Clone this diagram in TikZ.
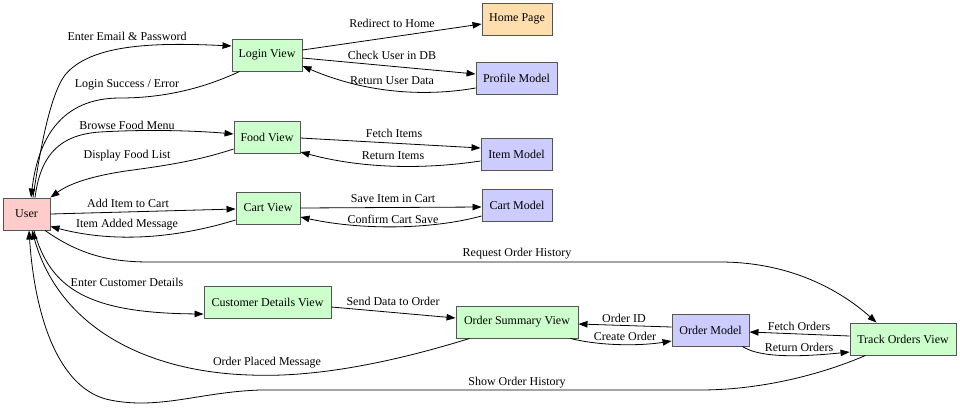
\documentclass[tikz,border=0pt]{standalone}
\usepackage{fontspec}
\setmainfont{Liberation Serif}
\usetikzlibrary{arrows.meta,calc}
\definecolor{userc}{HTML}{FFCCCC}
\definecolor{viewc}{HTML}{CCFFCC}
\definecolor{modelc}{HTML}{CCCCFF}
\definecolor{homec}{HTML}{FFDEAD}
\definecolor{bordc}{HTML}{555555}
\tikzset{
  box/.style={draw=bordc,line width=0.9pt,rectangle,minimum height=32pt,inner sep=0pt,font=\fontsize{12}{14}\selectfont},
  userbox/.style={box,fill=userc},
  viewbox/.style={box,fill=viewc},
  modelbox/.style={box,fill=modelc},
  homebox/.style={box,fill=homec},
  edge/.style={draw=black,line width=0.8pt,-{Triangle[length=9pt,width=6.5pt]}},
  lbl/.style={font=\fontsize{12}{14}\selectfont,inner sep=0pt,fill=none}
}
\begin{document}
\begin{tikzpicture}[x=1pt,y=-1pt]
\useasboundingbox (0,0) rectangle (960,408);
\fill[white] (0,0) rectangle (960,408);
% nodes
\node[userbox,minimum width=47pt] (user) at (26.5,214) {User};
\node[viewbox,minimum width=70pt] (login) at (267,55) {Login View};
\node[homebox,minimum width=70pt] (home) at (517,19) {Home Page};
\node[modelbox,minimum width=81pt] (profile) at (516.5,78.5) {Profile Model};
\node[viewbox,minimum width=66pt] (food) at (267,137) {Food View};
\node[modelbox,minimum width=71pt] (item) at (516.5,154) {Item Model};
\node[viewbox,minimum width=64pt] (cart) at (268,208) {Cart View};
\node[modelbox,minimum width=70pt] (cartm) at (517,205) {Cart Model};
\node[viewbox,minimum width=127pt] (cust) at (267.5,302) {Customer Details View};
\node[viewbox,minimum width=122pt] (summ) at (517,322) {Order Summary View};
\node[modelbox,minimum width=77pt] (om) at (710.5,330) {Order Model};
\node[viewbox,minimum width=106pt] (track) at (903,339) {Track Orders View};
% user <-> login
\draw[edge] ($(user.north)+(6.5,0)$) .. controls (40,150) and (50,95) .. (65,75) .. controls (90,45) and (150,42) .. ($(login.west)+(0,-9)$);
\node[lbl] (l1) at (127,36) {Enter Email \& Password};
\draw[edge] ($(login.south west)+(8,0)$) .. controls (200,90) and (160,98) .. (120,98) .. controls (60,98) and (38,140) .. ($(user.north)+(4.5,0)$);
\node[lbl] (l2) at (127,85) {Login Success / Error};
% user <-> food
\draw[edge] ($(user.north)+(8.5,0)$) .. controls (40,160) and (55,135) .. (100,132) .. controls (150,129) and (200,131) .. ($(food.west)+(0,-3)$);
\node[lbl] (l3) at (127,125) {Browse Food Menu};
\draw[edge] ($(food.west)+(0,12)$) .. controls (200,160) and (170,165) .. (133,170) .. controls (95,175) and (70,183) .. (user.north east);
\node[lbl] (l4) at (127,156) {Display Food List};
% user <-> cart
\draw[edge] (user.east) -- ($(cart.west)+(0,1)$);
\node[lbl] (l5) at (128,203) {Add Item to Cart};
\draw[edge] ($(cart.west)+(0,12)$) .. controls (170,240) and (110,242) .. ($(user.south east)+(0,-4)$);
\node[lbl] (l6) at (127,225) {Item Added Message};
% user -> track
\draw[edge] ($(user.south)+(18.5,0)$) .. controls (80,255) and (110,262) .. (150,262) -- (720,262) .. controls (790,262) and (840,290) .. ($(track.north west)+(27,0)$);
\node[lbl] (l7) at (517,254) {Request Order History};
% user -> customer
\draw[edge] ($(user.south)+(7.5,0)$) .. controls (50,290) and (90,313) .. ($(cust.west)+(0,12)$);
\node[lbl] (l8) at (127,282) {Enter Customer Details};
% summary -> user
\draw[edge] ($(summ.south west)+(14,0)$) .. controls (400,360) and (320,378) .. (250,375) .. controls (150,372) and (60,330) .. ($(user.south)+(5.5,0)$);
\node[lbl] (l9) at (267,363) {Order Placed Message};
% track -> user
\draw[edge] ($(track.south west)+(16,0)$) .. controls (820,375) and (760,390) .. (700,390) -- (260,390) .. controls (200,392) and (160,410) .. (110,400) .. controls (60,390) and (35,320) .. ($(user.south)+(2.5,0)$);
\node[lbl] (l10) at (517,383) {Show Order History};
% login <-> home / profile
\draw[edge] ($(login.east)+(0,-5)$) -- ($(home.west)+(0,5)$);
\node[lbl] (l11) at (392,23) {Redirect to Home};
\draw[edge] ($(login.east)+(0,3)$) -- ($(profile.west)+(0,-4.5)$);
\node[lbl] (l12) at (392,55) {Check User in DB};
\draw[edge] ($(profile.west)+(0,9.5)$) .. controls (430,96) and (370,95) .. ($(login.east)+(0,11)$);
\node[lbl] (l13) at (392,81) {Return User Data};
% food <-> item
\draw[edge] ($(food.east)+(0,1)$) -- ($(item.west)+(0,-6)$);
\node[lbl] (l14) at (394,133) {Fetch Items};
\draw[edge] ($(item.west)+(0,7)$) .. controls (420,170) and (360,168) .. ($(food.east)+(0,15)$);
\node[lbl] (l15) at (393,156) {Return Items};
% cart <-> cart model
\draw[edge] (cart.east) -- ($(cartm.west)+(0,2)$);
\node[lbl] (l16) at (393,199) {Save Item in Cart};
\draw[edge] ($(cartm.west)+(0,11)$) .. controls (430,230) and (360,230) .. ($(cart.east)+(0,9)$);
\node[lbl] (l17) at (393,219) {Confirm Cart Save};
% customer -> summary
\draw[edge] ($(cust.east)+(0,5)$) -- ($(summ.west)+(0,-4)$);
\node[lbl] (l18) at (393,301) {Send Data to Order};
% summary <-> order model
\draw[edge] ($(om.west)+(0,-3)$) -- ($(summ.east)+(0,2)$);
\node[lbl] (l19) at (624,318) {Order ID};
\draw[edge] ($(summ.south east)+(-8,0)$) .. controls (600,346) and (640,346) .. ($(om.west)+(0,11)$);
\node[lbl] (l20) at (625,336) {Create Order};
% order model <-> track
\draw[edge] ($(track.west)+(0,-3)$) -- ($(om.east)+(0,2)$);
\node[lbl] (l21) at (799,326) {Fetch Orders};
\draw[edge] ($(om.south east)+(-7,0)$) .. controls (760,358) and (800,357) .. ($(track.west)+(0,13)$);
\node[lbl] (l22) at (799,347) {Return Orders};
\end{tikzpicture}
\end{document}
